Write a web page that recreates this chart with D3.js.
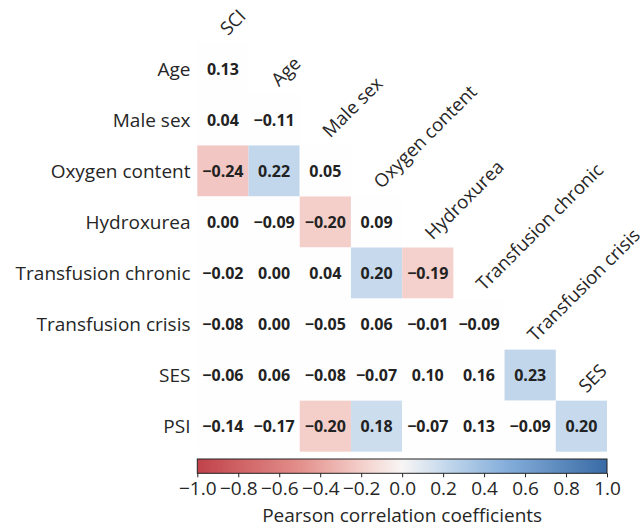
<!DOCTYPE html>
<html>
<head>
<meta charset="utf-8">
<script src="https://cdn.jsdelivr.net/npm/d3@7"></script>
<style>
  html, body { margin: 0; padding: 0; background: #fff; }
  svg { display: block; font-family: "Open Sans", "Noto Sans", sans-serif; }
</style>
</head>
<body>
<svg id="chart" width="644" height="527"></svg>
<script>
const columns = ["SCI", "Age", "Male sex", "Oxygen content", "Hydroxurea", "Transfusion chronic", "Transfusion crisis", "SES"];
const rows = ["Age", "Male sex", "Oxygen content", "Hydroxurea", "Transfusion chronic", "Transfusion crisis", "SES", "PSI"];
const values = [
  [0.13],
  [0.04, -0.11],
  [-0.24, 0.22, 0.05],
  [0.00, -0.09, -0.20, 0.09],
  [-0.02, 0.00, 0.04, 0.20, -0.19],
  [-0.08, 0.00, -0.05, 0.06, -0.01, -0.09],
  [-0.06, 0.06, -0.08, -0.07, 0.10, 0.16, 0.23],
  [-0.14, -0.17, -0.20, 0.18, -0.07, 0.13, -0.09, 0.20]
];
// 1 = shaded (significant), 0 = left white
const shaded = [
  [0],
  [0, 0],
  [1, 1, 0],
  [0, 0, 1, 0],
  [0, 0, 0, 1, 1],
  [0, 0, 0, 0, 0, 0],
  [0, 0, 0, 0, 0, 0, 1],
  [0, 0, 1, 1, 0, 0, 0, 1]
];
const colorbarTicks = [-1.0, -0.8, -0.6, -0.4, -0.2, 0.0, 0.2, 0.4, 0.6, 0.8, 1.0];
const colorbarTitle = "Pearson correlation coefficients";

const svg = d3.select("#chart");
const textColor = "#262626";
const labelSize = "19px";

const x = d3.scaleBand().domain(columns).range([197.3, 607]).padding(0);
const y = d3.scaleBand().domain(rows).range([43.3, 451.7]).padding(0);

const color = d3.scaleLinear()
  .domain([-1, -0.5, -0.2, 0, 0.2, 0.5, 1])
  .range(["#c0424a", "#e38f8b", "#f4cfca", "#f8f6f5", "#c7daed", "#86afdb", "#3a6ba5"])
  .interpolate(d3.interpolateRgb);

const cells = [];
rows.forEach((r, i) => {
  values[i].forEach((v, j) => {
    cells.push({row: r, col: columns[j], v: v, s: shaded[i][j]});
  });
});

const fmt = d3.format(".2f");

const g = svg.append("g");
g.selectAll("rect.cell")
  .data(cells)
  .enter().append("rect")
  .attr("class", "cell")
  .attr("x", d => x(d.col))
  .attr("y", d => y(d.row))
  .attr("width", x.bandwidth())
  .attr("height", y.bandwidth())
  .attr("fill", d => d.s ? color(d.v) : "#fefefe");

g.selectAll("text.val")
  .data(cells)
  .enter().append("text")
  .attr("class", "val")
  .attr("x", d => x(d.col) + x.bandwidth() / 2)
  .attr("y", d => y(d.row) + y.bandwidth() / 2)
  .attr("text-anchor", "middle")
  .attr("dominant-baseline", "central")
  .attr("font-size", "16px")
  .attr("font-weight", "bold")
  .attr("fill", "#222")
  .text(d => fmt(d.v));

// row labels
g.selectAll("text.rowlab")
  .data(rows)
  .enter().append("text")
  .attr("class", "rowlab")
  .attr("x", 190.5)
  .attr("y", d => y(d) + y.bandwidth() / 2)
  .attr("text-anchor", "end")
  .attr("dominant-baseline", "central")
  .attr("font-size", labelSize)
  .attr("fill", textColor)
  .text(d => d);

// column labels, above each column's top cell
g.selectAll("text.collab")
  .data(columns)
  .enter().append("text")
  .attr("class", "collab")
  .attr("transform", (d, j) => {
    const cx = x(d) + x.bandwidth() / 2 + 5;
    const cy = y(rows[j]) - 7;
    return `translate(${cx},${cy}) rotate(-45)`;
  })
  .attr("text-anchor", "start")
  .attr("font-size", "18.5px")
  .attr("fill", textColor)
  .text(d => d);

// colorbar
const cbX = d3.scaleLinear().domain([-1, 1]).range([197.3, 607]);
const cbTop = 459, cbH = 14.3;
const defs = svg.append("defs");
const grad = defs.append("linearGradient").attr("id", "cbgrad")
  .attr("x1", "0%").attr("x2", "100%").attr("y1", "0%").attr("y2", "0%");
d3.range(0, 1.0001, 0.02).forEach(t => {
  grad.append("stop").attr("offset", (t * 100) + "%").attr("stop-color", color(-1 + 2 * t));
});
svg.append("rect")
  .attr("x", cbX(-1)).attr("y", cbTop)
  .attr("width", cbX(1) - cbX(-1)).attr("height", cbH)
  .attr("fill", "url(#cbgrad)")
  .attr("stroke", "#222").attr("stroke-width", 1);

const axis = d3.axisBottom(cbX).tickValues(colorbarTicks).tickFormat(d3.format(".1f"))
  .tickSize(4).tickPadding(4.4);
const ax = svg.append("g").attr("transform", `translate(0,${cbTop + cbH})`).call(axis);
ax.select(".domain").remove();
ax.selectAll(".tick line").attr("stroke", "#222");
ax.selectAll(".tick text")
  .attr("font-size", labelSize)
  .attr("font-family", "\"Open Sans\", \"Noto Sans\", sans-serif")
  .attr("fill", textColor);

svg.append("text")
  .attr("x", (cbX(-1) + cbX(1)) / 2)
  .attr("y", 521.7)
  .attr("text-anchor", "middle")
  .attr("font-size", labelSize)
  .attr("fill", textColor)
  .text(colorbarTitle);
</script>
</body>
</html>
